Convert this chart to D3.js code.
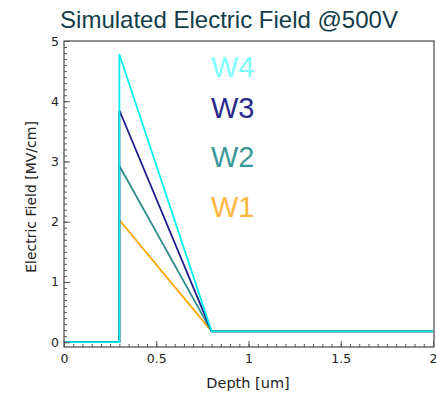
<!DOCTYPE html>
<html>
<head>
<meta charset="utf-8">
<script src="https://cdn.jsdelivr.net/npm/d3@7"></script>
<style>
  body { margin: 0; background: #fff; }
  svg { display: block; }
</style>
</head>
<body>
<div id="chart"></div>
<script>
;(function () {
  // data: depth [um] vs field [MV/cm]
  const depth = [0, 0.3, 0.3, 0.8, 2]
  const w1 = [0, 0, 2.03, 0.18, 0.18]
  const w2 = [0, 0, 2.93, 0.18, 0.18]
  const w3 = [0, 0, 3.85, 0.18, 0.18]
  const w4 = [0, 0, 4.78, 0.18, 0.18]
  const seriesNames = ["W1", "W2", "W3", "W4"]
  const lineColors = ["#ffa500", "#2e8b8b", "#1c1c8c", "#00f0f0"]
  const labelColors = ["#ffb640", "#3a9898", "#2a2a8a", "#80ffff"]
  const xTicks = [0, 0.5, 1, 1.5, 2]
  const yTicks = [0, 1, 2, 3, 4, 5]

  const width = 436
  const height = 393
  const margin = { left: 64, right: 1, top: 41, bottom: 46 }

  const svg = d3.select("#chart").append("svg").attr("width", width).attr("height", height)

  const x = d3.scaleLinear().domain([0, 2]).range([margin.left, 433])
  const y = d3.scaleLinear().domain([-0.08, 5]).range([height - margin.bottom, margin.top])

  const series = [w1, w2, w3, w4]

  // title
  svg.append("text")
    .attr("x", 229)
    .attr("y", 28)
    .attr("text-anchor", "middle")
    .attr("font-family", "Liberation Sans, Arial, sans-serif")
    .attr("font-size", 24)
    .attr("fill", "#123c48")
    .text("Simulated Electric Field @500V")

  // lines
  const line = d3.line().x((d, i) => x(depth[i])).y(d => y(d))
  svg.selectAll(".series")
    .data(series)
    .join("path")
    .attr("class", "series")
    .attr("d", d => line(d))
    .attr("fill", "none")
    .attr("stroke", (d, i) => lineColors[i])
    .attr("stroke-width", 1.8)

  // frame
  const x0 = x(0), x1 = x(2), yTop = y(5), yBot = y(-0.08)
  svg.append("rect")
    .attr("x", x0).attr("y", yTop)
    .attr("width", x1 - x0 + 1).attr("height", yBot - yTop)
    .attr("fill", "none").attr("stroke", "#222").attr("stroke-width", 1)

  // axes with inward ticks
  const xAxis = svg.append("g").attr("transform", `translate(0,${yBot})`)
    .call(d3.axisBottom(x).tickValues(xTicks).tickSize(-6).tickPadding(7).tickFormat(d3.format("")))
  const xMinor = svg.append("g").attr("transform", `translate(0,${yBot})`)
    .call(d3.axisBottom(x).tickValues(d3.range(0, 2.001, 0.05)).tickSize(-3).tickFormat(""))
  const yAxis = svg.append("g").attr("transform", `translate(${x0},0)`)
    .call(d3.axisLeft(y).tickValues(yTicks).tickSize(-6).tickPadding(5).tickFormat(d3.format("")))
  const yMinor = svg.append("g").attr("transform", `translate(${x0},0)`)
    .call(d3.axisLeft(y).tickValues(d3.range(0, 5.001, 0.1)).tickSize(-3).tickFormat(""))

  ;[xAxis, xMinor, yAxis, yMinor].forEach(g => {
    g.select(".domain").remove()
    g.selectAll("line").attr("stroke", "#555")
    g.selectAll("text")
      .attr("font-family", "DejaVu Sans, sans-serif")
      .attr("font-size", 12.5)
      .attr("fill", "#222")
  })

  // axis titles
  svg.append("text")
    .attr("x", 248)
    .attr("y", 388)
    .attr("text-anchor", "middle")
    .attr("font-family", "DejaVu Sans, sans-serif")
    .attr("font-size", 14.5)
    .attr("fill", "#222")
    .text("Depth [um]")

  svg.append("text")
    .attr("transform", `translate(36,${(yTop + yBot) / 2 + 3}) rotate(-90)`)
    .attr("text-anchor", "middle")
    .attr("font-family", "DejaVu Sans, sans-serif")
    .attr("font-size", 14)
    .attr("fill", "#222")
    .text("Electric Field [MV/cm]")

  // in-plot labels
  const labelY = [217, 167, 118, 77]
  svg.selectAll(".lbl")
    .data(seriesNames)
    .join("text")
    .attr("class", "lbl")
    .attr("x", 211)
    .attr("y", (d, i) => labelY[i])
    .attr("font-family", "Liberation Sans, Arial, sans-serif")
    .attr("font-size", 29)
    .attr("fill", (d, i) => labelColors[i])
    .text(d => d)
})()
</script>
</body>
</html>
